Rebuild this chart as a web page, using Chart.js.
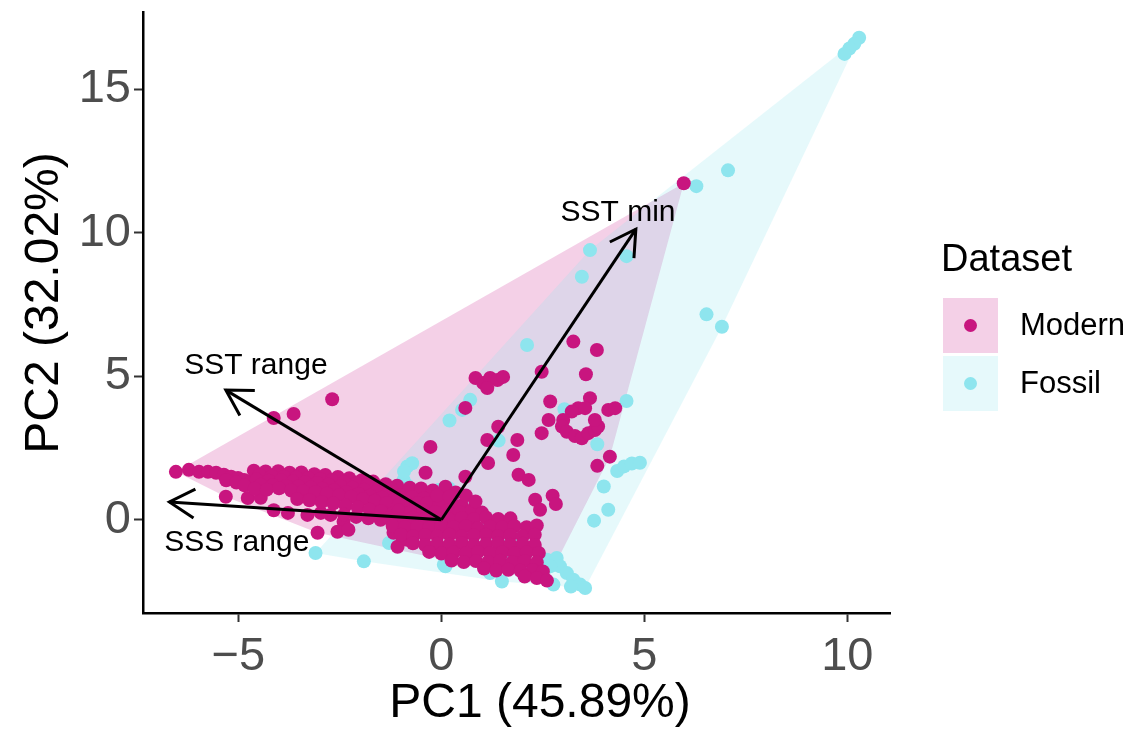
<!DOCTYPE html>
<html>
<head>
<meta charset="utf-8">
<script src="https://cdn.jsdelivr.net/npm/chart.js@4.4.1/dist/chart.umd.min.js"></script>
<style>
  html, body { margin: 0; padding: 0; background: #ffffff; }
  #wrap { width: 1130px; height: 732px; }
</style>
</head>
<body>
<div id="wrap"><canvas id="c" width="1130" height="732"></canvas></div>
<script>
// ---------------- DATA ----------------
const seriesNames = ['Modern', 'Fossil'];
const legendTitle = 'Dataset';
const xTitle = 'PC1 (45.89%)';
const yTitle = 'PC2 (32.02%)';
const xTicks = [-5, 0, 5, 10];
const yTicks = [0, 5, 10, 15];
const xLimits = [-7.35, 11.05];
const yLimits = [-3.25, 17.7];

// loadings (arrows) and their label positions
const loadingNames = ['SSS range', 'SST range', 'SST min'];
const loadingPC1 = [-6.70, -5.31, 4.79];
const loadingPC2 = [0.62, 4.52, 10.13];
const loadingLabelPC1 = [-5.04, -4.57, 4.35];
const loadingLabelPC2 = [-0.80, 5.36, 10.72];

// PC scores, [PC1, PC2]
const modernScores = [
  // left tail
  [-6.54,1.67],[-6.22,1.74],[-5.97,1.67],[-5.75,1.67],[-5.55,1.64],[-5.36,1.57],[-5.18,1.50],[-5.01,1.46],[-4.86,1.39],[-4.69,1.32],
  [-5.30,1.38],[-5.05,1.30],[-4.85,1.20],
  // below band
  [-5.31,0.80],[-4.77,0.76],[-4.45,0.77],[-4.13,0.33],[-3.78,0.24],[-3.30,0.17],[-3.05,-0.45],[-2.73,0.17],[-2.41,-0.07],
  [-2.56,-0.42],[-2.29,-0.35],[-2.97,0.24],[-1.18,-0.45],[-1.08,-0.94],[-0.84,-0.70],
  // band
  [-4.62,1.71],[-4.33,1.68],[-4.02,1.69],[-3.74,1.64],[-3.45,1.65],[-3.13,1.59],[-2.86,1.56],[-2.55,1.49],[-2.27,1.45],[-1.96,1.38],[-1.68,1.33],[-1.37,1.24],[-1.09,1.19],[-0.78,1.12],[-0.50,1.09],[-0.21,1.02],
  [-4.48,1.55],[-4.18,1.52],[-3.88,1.50],[-3.58,1.47],[-3.28,1.46],[-2.98,1.42],[-2.70,1.38],[-2.40,1.31],[-2.10,1.27],[-1.82,1.20],[-1.52,1.14],[-1.23,1.07],
  [-4.55,1.40],[-4.25,1.36],[-3.95,1.38],[-3.66,1.33],[-3.36,1.31],[-3.06,1.28],[-2.78,1.22],[-2.48,1.17],[-2.19,1.12],[-1.90,1.05],[-1.60,0.98],[-1.31,0.92],[-1.01,0.85],[-0.72,0.79],[-0.43,0.74],[-0.14,0.70],
  [-4.45,1.22],[-4.15,1.20],[-3.82,1.18],[-3.52,1.16],[-3.22,1.13],[-2.93,1.08],[-2.64,1.03],[-2.34,0.97],[-2.04,0.90],[-1.76,0.84],[-1.46,0.77],[-1.17,0.70],[-0.88,0.63],[-0.58,0.58],
  [-4.60,1.08],[-4.30,1.05],[-4.00,1.10],[-3.70,1.02],[-3.40,1.00],[-3.10,0.96],[-2.82,0.91],[-2.52,0.86],[-2.22,0.80],[-1.93,0.72],[-1.64,0.66],[-1.35,0.58],[-1.05,0.52],[-0.76,0.45],[-0.46,0.42],[-0.17,0.38],
  [-3.55,0.72],[-3.25,0.68],[-2.95,0.62],[-2.66,0.57],[-2.36,0.50],[-2.06,0.43],[-1.77,0.35],[-1.48,0.30],[-1.19,0.22],[-0.89,0.16],[-0.60,0.10],[-0.30,0.07],
  [-2.40,0.18],[-2.10,0.10],[-1.80,0.05],[-1.50,0.00],[-1.20,-0.08],[-0.90,-0.12],[-0.60,-0.15],[-0.30,-0.10],
  // central cluster
  [-0.35,0.58],[-0.05,0.55],[0.25,0.60],[0.50,0.50],
  [-1.05,0.32],[-0.75,0.28],[-0.45,0.33],[-0.15,0.27],[0.15,0.31],[0.45,0.26],[0.75,0.33],[1.00,0.25],
  [-1.30,0.06],[-1.00,0.02],[-0.70,0.07],[-0.40,0.03],[-0.10,0.05],[0.20,0.01],[0.50,0.06],[0.80,0.02],[1.10,0.08],[1.40,0.03],[1.70,0.05],
  [-1.20,-0.22],[-0.90,-0.27],[-0.60,-0.24],[-0.30,-0.28],[0.00,-0.22],[0.30,-0.26],[0.60,-0.23],[0.90,-0.29],[1.20,-0.24],[1.50,-0.27],[1.80,-0.22],[2.10,-0.26],[2.35,-0.20],
  [-1.00,-0.52],[-0.70,-0.58],[-0.40,-0.54],[-0.10,-0.57],[0.20,-0.52],[0.50,-0.58],[0.80,-0.55],[1.10,-0.52],[1.40,-0.57],[1.70,-0.54],[2.00,-0.58],[2.30,-0.52],
  [-0.70,-0.82],[-0.40,-0.88],[-0.10,-0.84],[0.20,-0.87],[0.50,-0.82],[0.80,-0.88],[1.10,-0.85],[1.40,-0.82],[1.70,-0.87],[2.00,-0.84],[2.30,-0.88],
  [-0.30,-1.12],[0.00,-1.18],[0.30,-1.14],[0.60,-1.17],[0.90,-1.12],[1.20,-1.16],[1.50,-1.13],[1.80,-1.18],[2.10,-1.14],[2.40,-1.16],
  [0.25,-1.42],[0.55,-1.47],[0.85,-1.44],[1.15,-1.48],[1.45,-1.43],[1.75,-1.47],[2.05,-1.44],[2.35,-1.49],
  [1.05,-1.70],[1.35,-1.77],[1.65,-1.74],[1.95,-1.78],[2.25,-1.75],[2.50,-1.80],
  [2.05,-1.98],[2.35,-2.03],[2.60,-2.12],
  // just above the origin
  [0.10,1.15],[0.35,0.95],[-0.10,0.85],[0.20,0.80],[0.60,0.85],
  // scattered, upper middle
  [-0.27,2.54],[-0.39,1.64],[0.59,1.50],[0.84,4.94],[1.03,4.77],[1.20,4.94],[1.38,4.87],[1.52,4.98],[1.13,4.59],[0.59,3.90],
  [1.40,3.24],[1.13,2.78],[1.87,2.78],[1.77,2.26],[1.15,1.98],[1.90,1.57],[2.15,1.39],[2.31,0.70],[2.43,0.35],[2.74,0.84],[2.82,0.55],[0.84,0.64],
  // right group
  [3.25,6.21],[3.83,5.92],[2.47,5.16],[3.56,5.07],[2.68,4.12],[3.66,4.24],[3.37,3.89],[3.54,3.89],[3.21,3.77],[3.00,3.48],[2.64,3.48],[2.97,3.25],
  [3.09,3.07],[3.29,2.92],[3.46,2.84],[3.62,3.02],[3.78,3.13],[3.86,3.25],[3.78,3.48],[4.11,3.83],[4.28,3.89],[2.47,3.02],[4.15,2.20],[3.84,1.88],
  // isolated
  [5.97,11.73],[-2.69,4.20],[-4.13,3.55],[-3.64,3.69]
];

const fossilScores = [
  [10.29,16.80],[10.17,16.59],[10.05,16.43],[9.93,16.24],[7.06,12.18],[6.28,11.63],[3.66,9.40],[4.56,9.19],[3.46,8.47],
  [6.53,7.16],[6.91,6.73],[2.11,6.09],[4.56,4.14],[3.03,3.85],[3.84,2.63],
  [4.33,1.70],[4.50,1.86],[4.69,1.96],[4.89,1.99],[4.00,1.16],[4.11,0.35],[3.76,-0.03],
  [0.71,4.18],[0.51,3.83],[0.20,3.46],[-0.84,1.86],[-0.72,1.97],[-0.93,1.39],[-0.84,1.20],[-0.92,1.68],[1.41,2.76],
  [-0.07,1.04],[0.18,1.10],[0.02,0.70],[0.50,0.55],[0.39,-0.17],[0.79,-0.35],[1.04,-0.35],[1.16,-0.46],[1.61,-0.41],
  [1.90,-0.64],[1.29,-0.99],[1.57,-0.93],[1.41,-1.28],[1.65,-1.39],[1.74,-1.51],[1.94,-1.62],[2.15,-1.74],[2.35,-1.74],
  [2.60,-1.39],[2.84,-1.33],[2.92,-1.62],[3.09,-1.86],[3.25,-2.09],[3.42,-2.26],[3.54,-2.38],[2.76,-2.26],[3.19,-2.33],
  [2.68,-1.62],[0.10,-1.62],[1.20,-1.86],[1.49,-2.15],[-1.29,-0.81],[-3.10,-1.16],[-1.91,-1.45],[0.06,-1.57],[0.42,-0.10]
];

// ---------------- STYLE ----------------
const pointColors = ['#C8157F', '#8EE5EE'];
const hullColors = ['rgba(199,21,133,0.2)', 'rgba(142,229,238,0.22)'];
const FONT = "'Liberation Sans', Arial, Helvetica, sans-serif";

function convexHull(points) {
  const p = points.slice().sort((a, b) => a[0] - b[0] || a[1] - b[1]);
  const cross = (o, a, b) => (a[0]-o[0])*(b[1]-o[1]) - (a[1]-o[1])*(b[0]-o[0]);
  const lower = [];
  for (const q of p) { while (lower.length >= 2 && cross(lower[lower.length-2], lower[lower.length-1], q) <= 0) lower.pop(); lower.push(q); }
  const upper = [];
  for (let i = p.length - 1; i >= 0; i--) { const q = p[i]; while (upper.length >= 2 && cross(upper[upper.length-2], upper[upper.length-1], q) <= 0) upper.pop(); upper.push(q); }
  upper.pop(); lower.pop();
  return lower.concat(upper);
}

const hullPlugin = {
  id: 'hulls',
  beforeDatasetsDraw(chart) {
    const {ctx, scales: {x, y}, chartArea} = chart;
    ctx.save();
    ctx.beginPath();
    ctx.rect(chartArea.left, chartArea.top, chartArea.right - chartArea.left, chartArea.bottom - chartArea.top);
    ctx.clip();
    chart.data.datasets.forEach((ds, i) => {
      const h = convexHull(ds.data.map(d => [d.x, d.y]));
      ctx.beginPath();
      h.forEach((pt, k) => {
        const px = x.getPixelForValue(pt[0]), py = y.getPixelForValue(pt[1]);
        if (k === 0) ctx.moveTo(px, py); else ctx.lineTo(px, py);
      });
      ctx.closePath();
      ctx.fillStyle = hullColors[i];
      ctx.fill();
    });
    ctx.restore();
  }
};

const arrowPlugin = {
  id: 'loadings',
  afterDatasetsDraw(chart) {
    const {ctx, scales: {x, y}} = chart;
    const ox = x.getPixelForValue(0), oy = y.getPixelForValue(0);
    ctx.save();
    ctx.strokeStyle = '#000';
    ctx.lineWidth = 3;
    ctx.lineCap = 'butt';
    ctx.lineJoin = 'miter';
    for (let i = 0; i < loadingNames.length; i++) {
      const tx = x.getPixelForValue(loadingPC1[i]), ty = y.getPixelForValue(loadingPC2[i]);
      ctx.beginPath(); ctx.moveTo(ox, oy); ctx.lineTo(tx, ty); ctx.stroke();
      const ang = Math.atan2(ty - oy, tx - ox);
      const L = 29, a = Math.PI / 6;
      ctx.beginPath();
      ctx.moveTo(tx - L * Math.cos(ang - a), ty - L * Math.sin(ang - a));
      ctx.lineTo(tx, ty);
      ctx.lineTo(tx - L * Math.cos(ang + a), ty - L * Math.sin(ang + a));
      ctx.stroke();
    }
    ctx.fillStyle = '#000';
    ctx.font = '30px ' + FONT;
    ctx.textAlign = 'center';
    ctx.textBaseline = 'middle';
    for (let i = 0; i < loadingNames.length; i++) {
      ctx.fillText(loadingNames[i], x.getPixelForValue(loadingLabelPC1[i]), y.getPixelForValue(loadingLabelPC2[i]));
    }
    ctx.restore();
  }
};

const legendPlugin = {
  id: 'ggLegend',
  afterDraw(chart) {
    const {ctx} = chart;
    ctx.save();
    ctx.fillStyle = '#000';
    ctx.font = '38px ' + FONT;
    ctx.textAlign = 'left';
    ctx.textBaseline = 'middle';
    ctx.fillText(legendTitle, 941, 261);
    chart.data.datasets.forEach((ds, i) => {
      const top = 298 + i * 58;
      ctx.fillStyle = hullColors[i];
      ctx.fillRect(943, top, 55, 55);
      ctx.beginPath();
      ctx.arc(970.5, top + 27.5, 6.5, 0, Math.PI * 2);
      ctx.fillStyle = pointColors[i];
      ctx.fill();
      ctx.fillStyle = '#000';
      ctx.font = '31px ' + FONT;
      ctx.fillText(ds.label, 1020, top + 28);
    });
    ctx.restore();
  }
};

const axisTitlePlugin = {
  id: 'axisTitles',
  afterDraw(chart) {
    const {ctx} = chart;
    ctx.save();
    ctx.fillStyle = '#000';
    ctx.font = '48px ' + FONT;
    ctx.textAlign = 'center';
    ctx.textBaseline = 'middle';
    ctx.fillText(xTitle, 540, 704);
    ctx.translate(45, 303);
    ctx.rotate(-Math.PI / 2);
    ctx.fillText(yTitle, 0, 0);
    ctx.restore();
  }
};

const fmt = v => (v < 0 ? '\u2212' + Math.abs(v) : String(v));

new Chart(document.getElementById('c'), {
  type: 'scatter',
  data: {
    datasets: [
      { label: seriesNames[0], data: modernScores.map(p => ({x: p[0], y: p[1]})),
        backgroundColor: pointColors[0], borderWidth: 0, pointRadius: 7, pointHoverRadius: 7 },
      { label: seriesNames[1], data: fossilScores.map(p => ({x: p[0], y: p[1]})),
        backgroundColor: pointColors[1], borderWidth: 0, pointRadius: 7, pointHoverRadius: 7 }
    ]
  },
  options: {
    responsive: false,
    animation: false,
    devicePixelRatio: 1,
    layout: { padding: { left: 0, top: 12, right: 240, bottom: 0 } },
    plugins: { legend: { display: false }, tooltip: { enabled: false } },
    scales: {
      x: {
        type: 'linear', min: xLimits[0], max: xLimits[1],
        afterBuildTicks: s => { s.ticks = xTicks.map(v => ({value: v})); },
        afterFit: s => { s.height = 119; s.paddingLeft = 0; s.paddingRight = 0; },
        ticks: { callback: fmt, color: '#4D4D4D', font: { family: FONT, size: 47 }, padding: 7, maxRotation: 0, autoSkip: false },
        grid: { drawOnChartArea: false, drawTicks: true, tickLength: 9, tickWidth: 2, tickColor: '#333333' },
        border: { display: true, color: '#000000', width: 2.5 },
        title: { display: false }
      },
      y: {
        type: 'linear', min: yLimits[0], max: yLimits[1],
        afterBuildTicks: s => { s.ticks = yTicks.map(v => ({value: v})); },
        afterFit: s => { s.width = 143; s.paddingTop = 0; s.paddingBottom = 0; },
        ticks: { callback: fmt, color: '#4D4D4D', font: { family: FONT, size: 47 }, padding: 3, autoSkip: false },
        grid: { drawOnChartArea: false, drawTicks: true, tickLength: 9, tickWidth: 2, tickColor: '#333333' },
        border: { display: true, color: '#000000', width: 2.5 },
        title: { display: false }
      }
    }
  },
  plugins: [hullPlugin, arrowPlugin, legendPlugin, axisTitlePlugin]
});
</script>
</body>
</html>
